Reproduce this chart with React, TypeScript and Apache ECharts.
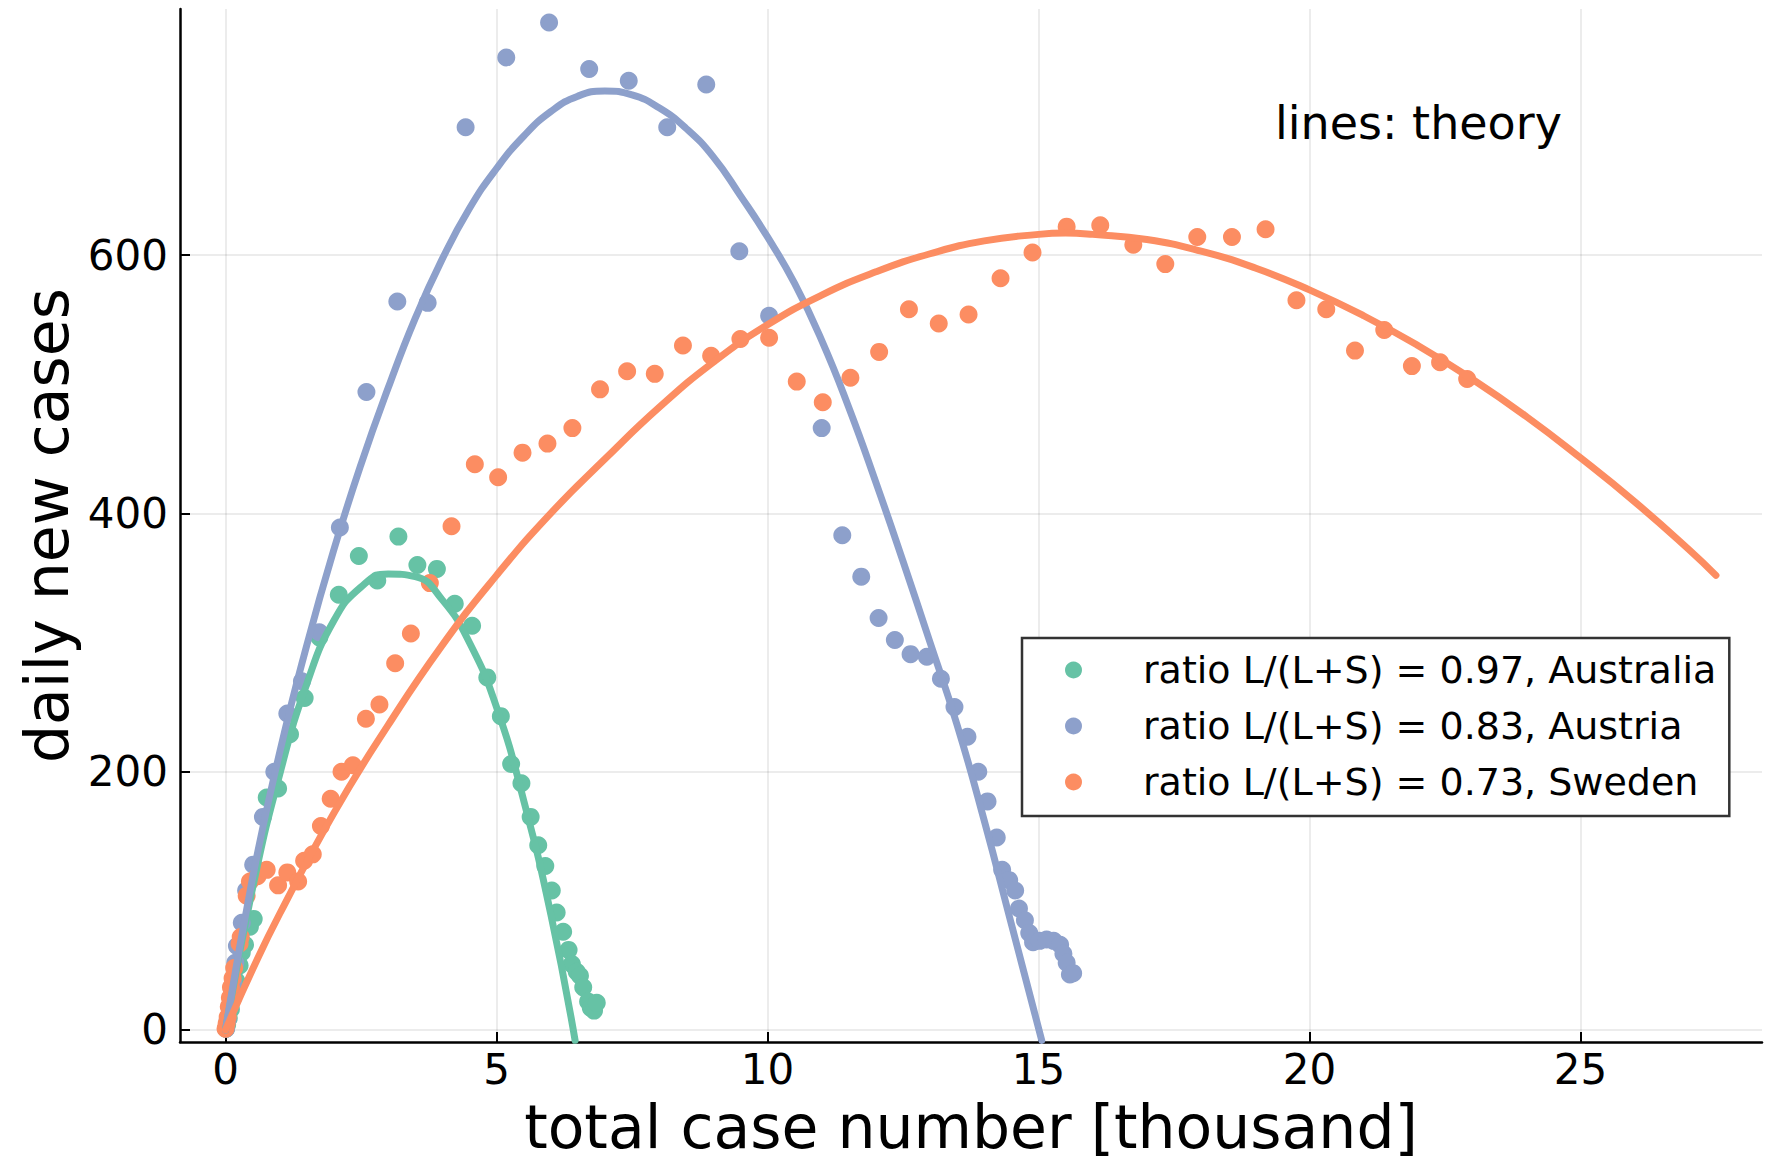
import React, { useEffect, useRef } from "react";
import * as echarts from "echarts";

const FONT = '"DejaVu Sans", "Liberation Sans", sans-serif';

const seriesNames = [
  "ratio L/(L+S) = 0.97, Australia",
  "ratio L/(L+S) = 0.83, Austria",
  "ratio L/(L+S) = 0.73, Sweden",
];
const colors = ["#66c2a5", "#8da0cb", "#fc8d62"];

const xTicks = [0, 5, 10, 15, 20, 25];
const yTicks = [0, 200, 400, 600];

// observed data: [total cases (thousand), daily new cases]
const australiaPoints = [
  [0.01, 1], [0.03, 4], [0.06, 9], [0.1, 16], [0.14, 25], [0.2, 38], [0.26, 50],
  [0.3, 60], [0.36, 66], [0.45, 80], [0.52, 86], [0.76, 180], [0.97, 187],
  [1.19, 229], [1.46, 257], [1.73, 304], [2.09, 337], [2.46, 367], [2.8, 348],
  [3.19, 382], [3.54, 360], [3.9, 357], [4.23, 330], [4.55, 313], [4.83, 273],
  [5.08, 243], [5.27, 206], [5.46, 191], [5.63, 165], [5.77, 143], [5.9, 127],
  [6.02, 108], [6.11, 91], [6.23, 76], [6.33, 62], [6.39, 51], [6.48, 45],
  [6.54, 42], [6.6, 33], [6.69, 22], [6.74, 17], [6.8, 15], [6.85, 21],
];
const austriaPoints = [
  [0.01, 1], [0.04, 8], [0.08, 18], [0.12, 30], [0.14, 37], [0.18, 52], [0.21, 65],
  [0.3, 83], [0.38, 108], [0.51, 128], [0.69, 165], [0.9, 200], [1.14, 245],
  [1.41, 270], [1.73, 308], [2.11, 389], [2.6, 494], [3.17, 564], [3.73, 563],
  [4.43, 699], [5.18, 753], [5.97, 780], [6.71, 744], [7.44, 735], [8.15, 699],
  [8.87, 732], [9.48, 603], [10.03, 553], [11.0, 466], [11.38, 383], [11.73, 351],
  [12.05, 319], [12.35, 302], [12.64, 291], [12.94, 289], [13.2, 272], [13.45, 250],
  [13.69, 227], [13.89, 200], [14.06, 177], [14.23, 149], [14.33, 124], [14.46, 116],
  [14.57, 108], [14.64, 94], [14.75, 85], [14.83, 75], [14.9, 68], [15.02, 69],
  [15.15, 70], [15.28, 69], [15.4, 66], [15.46, 59], [15.52, 52], [15.58, 43], [15.64, 44],
];
const swedenPoints = [
  [0.0, 1], [0.02, 5], [0.04, 10], [0.06, 18], [0.08, 25], [0.1, 33], [0.13, 40],
  [0.16, 48], [0.26, 67], [0.28, 72], [0.39, 104], [0.45, 115], [0.59, 119],
  [0.76, 124], [0.97, 112], [1.14, 122], [1.34, 115], [1.45, 131], [1.61, 136],
  [1.76, 158], [1.94, 179], [2.14, 200], [2.35, 205], [2.59, 241], [2.84, 252],
  [3.13, 284], [3.42, 307], [3.77, 346], [4.17, 390], [4.6, 438], [5.03, 428],
  [5.48, 447], [5.94, 454], [6.4, 466], [6.91, 496], [7.41, 510], [7.92, 508],
  [8.44, 530], [8.96, 522], [9.5, 535], [10.03, 536], [10.54, 502], [11.02, 486],
  [11.53, 505], [12.06, 525], [12.61, 558], [13.16, 547], [13.71, 554], [14.3, 582],
  [14.89, 602], [15.52, 622], [16.14, 623], [16.75, 608], [17.34, 593], [17.93, 614],
  [18.57, 614], [19.19, 620], [19.76, 565], [20.31, 558], [20.84, 526], [21.38, 542],
  [21.89, 514], [22.41, 517], [22.91, 504],
];

// theory curves
const australiaTheory = [
  [0, 0], [0.5, 110], [1.0, 198], [1.5, 268], [2.0, 317], [2.5, 343], [3.0, 353],
  [3.5, 351], [4.0, 333], [4.5, 300], [5.0, 250], [5.5, 178], [6.0, 90], [6.45, -8],
];
const austriaTheory = [
  [0, 0], [0.5, 118], [1.0, 215], [1.5, 298], [2.0, 372], [2.5, 438], [3.0, 497],
  [3.5, 551], [4.0, 597], [4.5, 636], [5.0, 667], [5.5, 692], [6.0, 711], [6.5, 723],
  [7.0, 727], [7.5, 724], [8.0, 714], [8.5, 698], [9.0, 676], [9.5, 646], [10.0, 614],
  [10.5, 578], [11.0, 534], [11.5, 482], [12.0, 424], [12.5, 363], [13.0, 300],
  [13.5, 236], [14.0, 162], [14.5, 82], [15.06, -8],
];
const swedenTheory = [
  [0, 0], [0.5, 47], [1.0, 90], [2.0, 168], [3.0, 236], [4.0, 298], [5.0, 352],
  [6.0, 400], [7.0, 442], [8.0, 482], [9.0, 517], [10.0, 546], [11.0, 569],
  [12.0, 587], [13.0, 601], [14.0, 611], [15.0, 616], [15.5, 617], [16.0, 616],
  [17.0, 612], [18.0, 603], [19.0, 590], [20.0, 573], [21.0, 553], [22.0, 530],
  [23.0, 504], [24.0, 475], [25.0, 443], [26.0, 409], [27.0, 372], [27.5, 352],
];

const annotation = "lines: theory";
const xTitle = "total case number [thousand]";
const yTitle = "daily new cases";

export default function App() {
  const ref = useRef<HTMLDivElement>(null);
  useEffect(() => {
    if (!ref.current) return;
    const chart = echarts.init(ref.current, undefined, { renderer: "svg" });
    const pointSets = [australiaPoints, austriaPoints, swedenPoints];
    const lineSets = [australiaTheory, austriaTheory, swedenTheory];
    const series: any[] = [];
    for (let i = 0; i < 3; i++) {
      series.push({
        name: seriesNames[i],
        type: "scatter",
        data: pointSets[i],
        symbol: "circle",
        symbolSize: 18,
        itemStyle: { color: colors[i], opacity: 1 },
        emphasis: { disabled: true },
        clip: true,
      });
      series.push({
        name: "theory " + i,
        type: "line",
        data: lineSets[i],
        showSymbol: false,
        symbol: "none",
        smooth: 0.5,
        lineStyle: { color: colors[i], width: 7, cap: "round", join: "round" },
        itemStyle: { color: colors[i] },
        emphasis: { disabled: true },
        clip: true,
      });
    }
    chart.setOption({
      animation: false,
      backgroundColor: "#fff",
      textStyle: { fontFamily: FONT },
      grid: { left: 180, right: 3, top: 9, bottom: 120, containLabel: false },
      xAxis: {
        type: "value",
        min: -0.84,
        max: 28.35,
        name: xTitle,
        nameLocation: "middle",
        nameGap: 55,
        nameTextStyle: { fontSize: 60, fontFamily: FONT, color: "#000" },
        axisLine: { show: true, onZero: false, lineStyle: { color: "#000", width: 2.5 } },
        axisTick: { show: true, inside: true, length: 10, lineStyle: { color: "#000", width: 2 }, customValues: xTicks },
        axisLabel: { fontSize: 42, fontFamily: FONT, color: "#000", margin: 6, customValues: xTicks },
        splitLine: { show: true, lineStyle: { color: "rgba(0,0,0,0.1)", width: 1.5 } },
      },
      yAxis: {
        type: "value",
        min: -9.3,
        max: 790.5,
        name: yTitle,
        nameLocation: "middle",
        nameGap: 100,
        nameTextStyle: { fontSize: 60, fontFamily: FONT, color: "#000" },
        axisLine: { show: true, onZero: false, lineStyle: { color: "#000", width: 2.5 } },
        axisTick: { show: true, inside: true, length: 10, lineStyle: { color: "#000", width: 2 }, customValues: yTicks },
        axisLabel: { fontSize: 42, fontFamily: FONT, color: "#000", margin: 12, customValues: yTicks },
        splitLine: { show: true, lineStyle: { color: "rgba(0,0,0,0.1)", width: 1.5 } },
      },
      legend: {
        show: true,
        data: seriesNames,
        orient: "vertical",
        left: 1022,
        top: 638,
        icon: "circle",
        itemWidth: 17,
        itemHeight: 17,
        itemGap: 18,
        padding: [13, 13, 15, 43],
        borderColor: "#333",
        borderWidth: 2.5,
        borderRadius: 0,
        backgroundColor: "#fff",
        selectedMode: false,
        textStyle: { fontSize: 38, fontFamily: FONT, color: "#000", padding: [0, 0, 0, 56] },
      },
      graphic: [
        {
          type: "text",
          x: 1275,
          y: 123,
          style: {
            text: annotation,
            font: '46px "DejaVu Sans"',
            fill: "#000",
            align: "left",
            verticalAlign: "middle",
          },
        },
      ],
      series,
    });
    return () => chart.dispose();
  }, []);
  return (
    <div
      ref={ref}
      style={{ position: "fixed", left: 0, top: 0, width: 1765, height: 1162 }}
    />
  );
}
